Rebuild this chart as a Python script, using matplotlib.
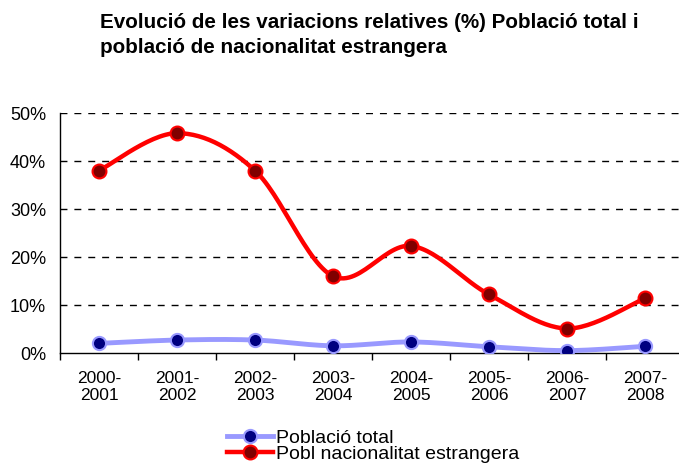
import numpy as np
import matplotlib
matplotlib.use("Agg")
import matplotlib.pyplot as plt
from matplotlib.lines import Line2D

plt.rcParams['font.family'] = ['Liberation Sans', 'DejaVu Sans']

periods = ['2000-\n2001', '2001-\n2002', '2002-\n2003', '2003-\n2004',
           '2004-\n2005', '2005-\n2006', '2006-\n2007', '2007-\n2008']
pob_total = [2.0, 2.7, 2.7, 1.5, 2.3, 1.3, 0.5, 1.4]
pob_estrangera = [38.0, 45.8, 38.0, 16.0, 22.3, 12.2, 5.1, 11.4]


def smooth(x, y, n=30):
    # Excel-style smoothed line: cubic Bezier with Catmull-Rom tangents
    x = np.asarray(x, float)
    y = np.asarray(y, float)
    px = np.concatenate([[x[0]], x, [x[-1]]])
    py = np.concatenate([[y[0]], y, [y[-1]]])
    xs, ys = [], []
    t = np.linspace(0, 1, n)
    for i in range(1, len(px) - 2):
        p0 = np.array([px[i], py[i]])
        p3 = np.array([px[i + 1], py[i + 1]])
        c1 = p0 + (np.array([px[i + 1], py[i + 1]]) - np.array([px[i - 1], py[i - 1]])) / 6
        c2 = p3 - (np.array([px[i + 2], py[i + 2]]) - np.array([px[i], py[i]])) / 6
        b = ((1 - t) ** 3)[:, None] * p0 + (3 * (1 - t) ** 2 * t)[:, None] * c1 \
            + (3 * (1 - t) * t ** 2)[:, None] * c2 + (t ** 3)[:, None] * p3
        xs.append(b[:, 0])
        ys.append(b[:, 1])
    return np.concatenate(xs), np.concatenate(ys)


fig = plt.figure(figsize=(6.79, 4.67), dpi=100)
ax = fig.add_axes([60 / 679, 1 - 353 / 467, 624 / 679, 240 / 467])

x = np.arange(len(periods))

blue_line = '#9999FF'
blue_mark = '#000080'
red_line = '#FF0000'
red_mark = '#800000'

sx, sy = smooth(x, pob_total)
ax.plot(sx, sy, color=blue_line, lw=3.5, solid_capstyle='round', zorder=3)
ax.plot(x, pob_total, ls='none', marker='o', ms=9.5, mfc=blue_mark,
        mec=blue_line, mew=1.5, zorder=4)

sx, sy = smooth(x, pob_estrangera)
ax.plot(sx, sy, color=red_line, lw=3.2, solid_capstyle='round', zorder=3)
ax.plot(x, pob_estrangera, ls='none', marker='o', ms=10, mfc=red_mark,
        mec=red_line, mew=1.5, zorder=4)

ax.set_xlim(-0.5, len(periods) - 0.5)
ax.set_ylim(0, 50)
ax.set_yticks(range(0, 51, 10))
ax.set_yticklabels([f'{v}%' for v in range(0, 51, 10)], fontsize=13)
ax.tick_params(axis='y', length=0, pad=10)

ax.set_xticks(np.arange(-0.5, len(periods), 1.0))
ax.set_xticklabels([])
ax.tick_params(axis='x', which='major', length=5, direction='out', width=1)
ax.set_xticks(x, minor=True)
ax.set_xticklabels(periods, minor=True, fontsize=12.5)
ax.tick_params(axis='x', which='minor', length=0, pad=13)

for v in range(10, 51, 10):
    ax.axhline(v, color='black', lw=1, ls=(0, (5, 5)), zorder=1)

for s in ['top', 'right']:
    ax.spines[s].set_visible(False)
for s in ['left', 'bottom']:
    ax.spines[s].set_color('black')
    ax.spines[s].set_linewidth(1)

fig.text(100 / 679, 1 - 13 / 467,
         'Evolució de les variacions relatives (%) Població total i\n'
         'població de nacionalitat estrangera',
         fontsize=14.9, fontweight='bold', ha='left', va='top',
         linespacing=1.4)

handles = [
    Line2D([], [], color=blue_line, lw=3.5, marker='o', ms=9.5,
           mfc=blue_mark, mec=blue_line, mew=1.5),
    Line2D([], [], color=red_line, lw=3.2, marker='o', ms=10,
           mfc=red_mark, mec=red_line, mew=1.5),
]
fig.legend(handles, ['Població total', 'Pobl nacionalitat estrangera'],
           loc='center', bbox_to_anchor=(373 / 679, 1 - 446 / 467),
           frameon=False, fontsize=14, handlelength=2.4, handletextpad=0.15,
           labelspacing=-0.1, borderpad=0)

fig.savefig('out.png', dpi=100)
